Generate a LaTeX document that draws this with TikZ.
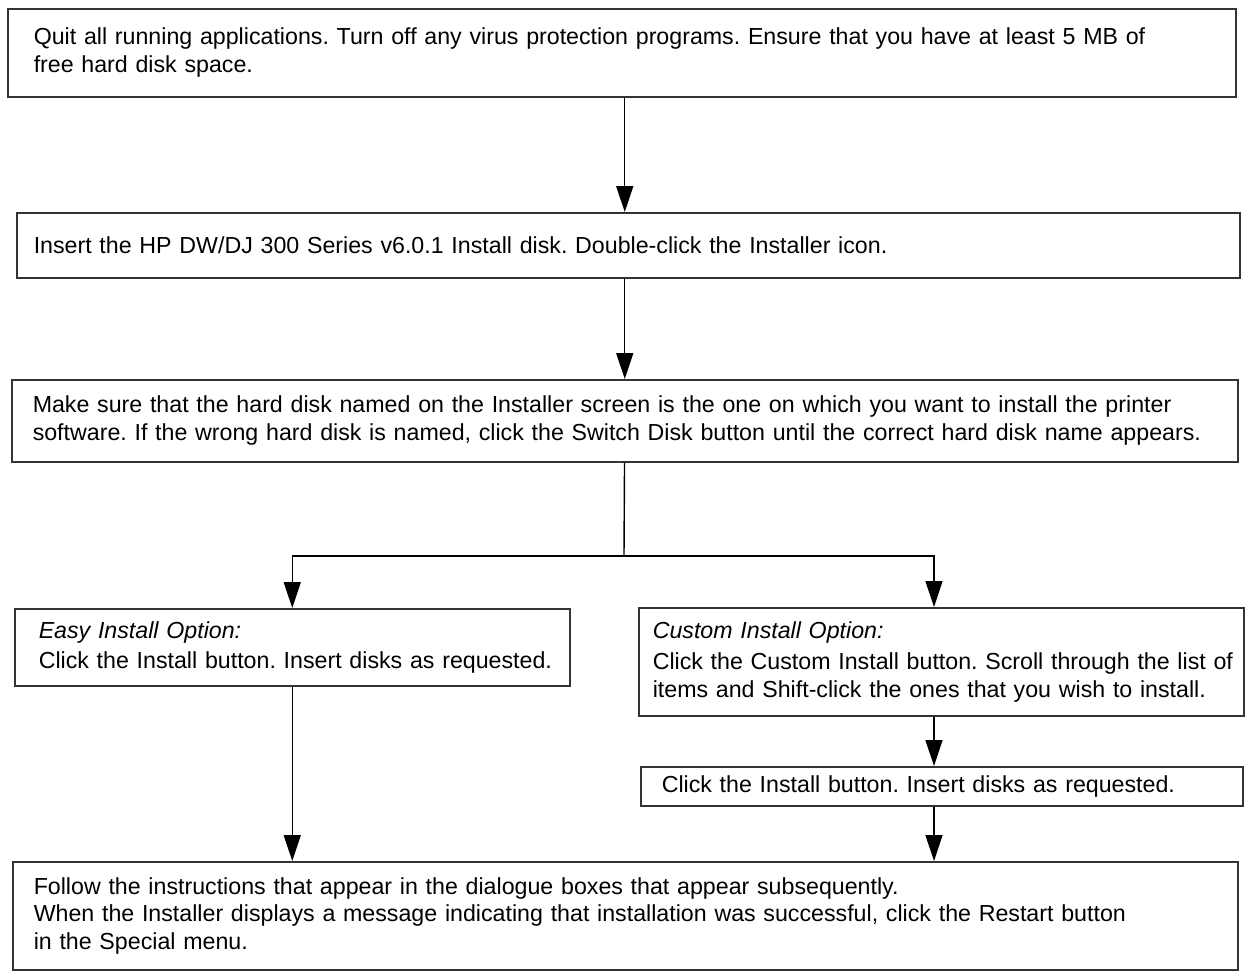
\documentclass[tikz,border=0pt]{standalone}
\usepackage{fontspec}
\setmainfont{Liberation Sans}
\frenchspacing
\usetikzlibrary{arrows.meta}
\definecolor{boxline}{HTML}{333333}

\begin{document}
\begin{tikzpicture}[x=0.5pt,y=-0.5pt,
  font=\fontsize{11.6}{13.8}\selectfont,>={Triangle[length=13pt,width=8.5pt]},
  box/.style n args={3}{draw=boxline,line width=0.75pt,anchor=north west,inner xsep=0pt,align=left,
    text width=#1,minimum height=#2,execute at begin node={\leftskip=#3}},
  flow/.style={line width=0.7pt},
]
\useasboundingbox (0,0) rectangle (1248,971);
\node[box={614pt}{44pt}{13pt}] (quit) at (7,8) {Quit all running applications. Turn off any virus protection programs. Ensure that you have at least 5 MB of\\free hard disk space.};
\node[box={611.5pt}{32.5pt}{8.5pt}] (insert) at (16,212) {Insert the HP DW/DJ 300 Series v6.0.1 Install disk. Double-click the Installer icon.};
\node[box={613pt}{41pt}{10.5pt}] (disk) at (11,379) {Make sure that the hard disk named on the Installer screen is the one on which you want to install the printer\\software. If the wrong hard disk is named, click the Switch Disk button until the correct hard disk name appears.};
\node[box={277.5pt}{38.5pt}{12pt}] (easy) at (14,608) {\textit{Easy Install Option:}\\[1pt]Click the Install button. Insert disks as requested.};
\node[box={302.5pt}{54pt}{7pt}] (custom) at (638,607) {\textit{Custom Install Option:}\\[2pt]Click the Custom Install button. Scroll through the list of\\items and Shift-click the ones that you wish to install.};
\node[box={301pt}{19.5pt}{10.5pt}] (click) at (640,766) {Click the Install button. Insert disks as requested.};
\node[box={612.5pt}{54pt}{10.5pt}] (finish) at (12,861) {Follow the instructions that appear in the dialogue boxes that appear subsequently.\\When the Installer displays a message indicating that installation was successful, click the Restart button\\in the Special menu.};
% flow
\draw[->,flow] (quit.south -| disk) -- (insert.north -| disk);
\draw[->,flow] (insert.south -| disk) -- (disk);
\coordinate (fork) at (624,556);
\coordinate (rbranch) at (934,556);
\draw[flow] (disk) -- (fork);
\draw[->,flow] (fork) -| (easy);
\draw[->,flow] (fork) -- (rbranch) -- (rbranch |- custom.north);
\draw[->,flow] (custom.south -| rbranch) -- (click.north -| rbranch);
\draw[->,flow] (easy) -- (finish.north -| easy);
\draw[->,flow] (click.south -| rbranch) -- (finish.north -| rbranch);
\end{tikzpicture}
\end{document}
